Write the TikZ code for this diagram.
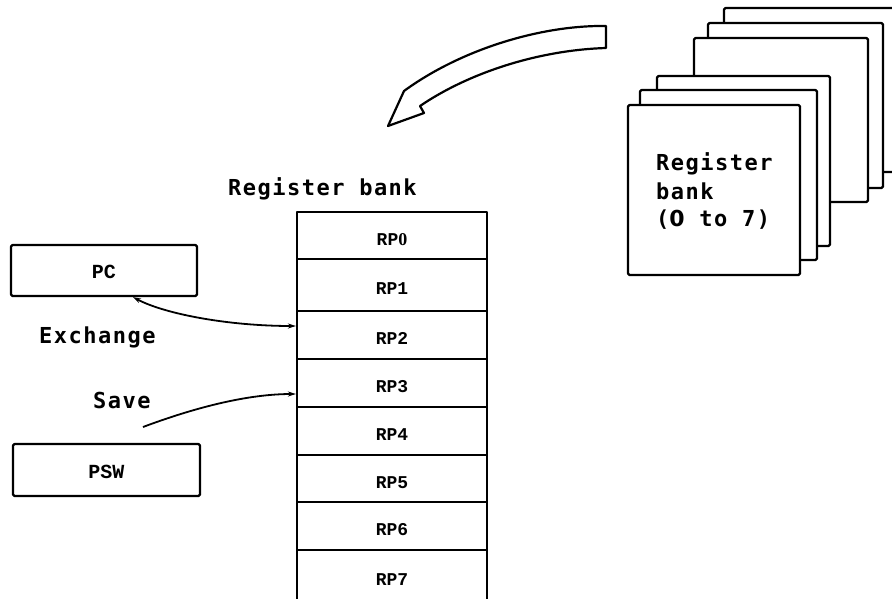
\documentclass[tikz,border=0pt]{standalone}
\usepackage{fontspec}
\usetikzlibrary{arrows.meta}
\newfontfamily\capfont[LetterSpace=6.8]{DejaVu Sans Mono}
\newfontfamily\capzerofont[LetterSpace=3]{DejaVu Sans}
\newfontfamily\regfont{Liberation Mono}
\newfontfamily\regzerofont{Liberation Serif}
\begin{document}
\begin{tikzpicture}[x=1pt,y=-1pt,line width=2.2pt,line join=round,
  box/.style={draw,rectangle,rounded corners=1.5pt,inner sep=0pt,fill=white},
  regbox/.style={box,rounded corners=0pt,minimum width=190pt,
    font=\regfont\bfseries\fontsize{18}{18}\selectfont,text height=19pt,text depth=0pt},
  unitbox/.style={box,font=\regfont\bfseries\fontsize{20}{20}\selectfont,text height=16pt,text depth=0pt},
  caption/.style={font=\capfont\bfseries\fontsize{22}{29}\selectfont,inner sep=0pt,anchor=base west},
  link/.style={line width=1.8pt,>={Stealth[length=8pt,width=5pt]}}]
\clip (0,0) rectangle (892,598);

% stack of register banks, back to front
\node[box,minimum width=176pt,minimum height=164pt] (sheet6) at (812,90) {};
\node[box,minimum width=175pt,minimum height=165pt] (sheet5) at (795.5,105.5) {};
\node[box,minimum width=174pt,minimum height=164pt] (sheet4) at (781,120) {};
\node[box,minimum width=173pt,minimum height=170pt] (sheet3) at (743.5,161) {};
\node[box,minimum width=177pt,minimum height=170pt] (sheet2) at (728.5,175) {};
\node[box,minimum width=172pt,minimum height=170pt] (sheet1) at (714,190) {};
\node[caption] (bank1) at (655,170) {Register};
\node[caption] (bank2) at (655,199) {bank};
\node[caption] (bank3) at (655,226) {({\capzerofont\bfseries 0} to 7)};

% hollow curved arrow
\draw[fill=white] (606,48) -- (606,26)
  .. controls (540,25) and (460,50) .. (404,91)
  -- (388,126) -- (424,113) -- (420,106)
  .. controls (470,72) and (540,50) .. (606,48) -- cycle;

% selected register bank
\node[caption] (banktitle) at (227,195) {Register bank};
\node[regbox,minimum height=47pt] (rp0) at (392,235.5) {RP{\regzerofont\bfseries 0}};
\node[regbox,minimum height=52pt] (rp1) at (392,285) {RP1};
\node[regbox,minimum height=48pt] (rp2) at (392,335) {RP2};
\node[regbox,minimum height=48pt] (rp3) at (392,383) {RP3};
\node[regbox,minimum height=48pt] (rp4) at (392,431) {RP4};
\node[regbox,minimum height=47pt] (rp5) at (392,478.5) {RP5};
\node[regbox,minimum height=48pt] (rp6) at (392,526) {RP6};
\node[regbox,minimum height=52pt] (rp7) at (392,576) {RP7};

% PC and PSW
\node[unitbox,minimum width=186pt,minimum height=51pt] (pc) at (104,270.5) {PC};
\node[unitbox,minimum width=187pt,minimum height=52pt] (psw) at (106.5,470) {PSW};
\node[caption] (exch) at (38,343) {Exchange};
\node[caption] (save) at (92,408) {Save};

\draw[link,<->] ([xshift=29pt]pc.south)
  .. controls +(32,17) and +(-67,0) .. ([yshift=9pt]rp2.west);
\coordinate (savefrom) at (143,427);
\draw[link,->] (savefrom)
  .. controls +(40,-15) and +(-55,0) .. ([yshift=-11pt]rp3.west);
\end{tikzpicture}
\end{document}
